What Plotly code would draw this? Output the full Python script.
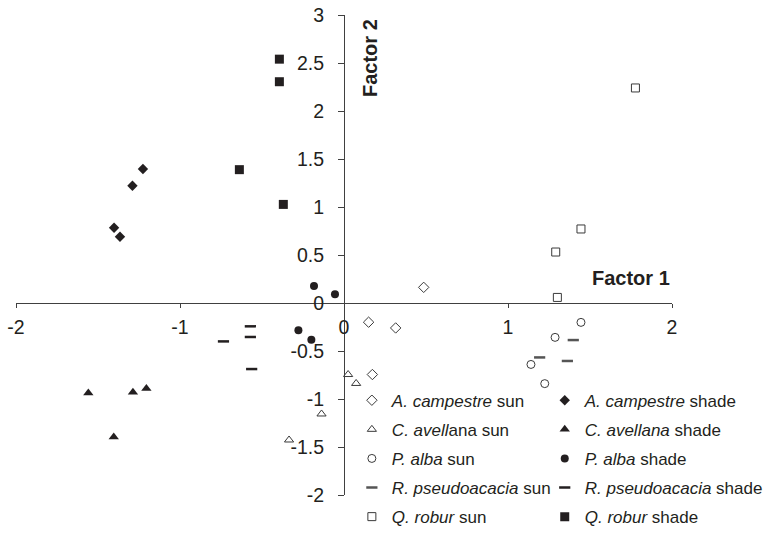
import plotly.graph_objects as go

# ---- data (Factor 1 = x, Factor 2 = y) ----
camp_sun_x = [0.486, 0.150, 0.315, 0.173]
camp_sun_y = [0.163, -0.200, -0.260, -0.745]
camp_shade_x = [-1.226, -1.290, -1.402, -1.366]
camp_shade_y = [1.396, 1.222, 0.784, 0.690]
avel_sun_x = [0.025, 0.074, -0.137, -0.335]
avel_sun_y = [-0.745, -0.838, -1.156, -1.427]
avel_shade_x = [-1.559, -1.287, -1.205, -1.404]
avel_shade_y = [-0.937, -0.930, -0.890, -1.396]
alba_sun_x = [1.445, 1.287, 1.140, 1.224]
alba_sun_y = [-0.202, -0.358, -0.640, -0.840]
alba_shade_x = [-0.183, -0.055, -0.278, -0.199]
alba_shade_y = [0.177, 0.090, -0.285, -0.382]
pseu_sun_x = [1.398, 1.193, 1.362]
pseu_sun_y = [-0.386, -0.567, -0.604]
pseu_shade_x = [-0.571, -0.571, -0.735, -0.563]
pseu_shade_y = [-0.243, -0.354, -0.400, -0.688]
robur_sun_x = [1.777, 1.445, 1.291, 1.301]
robur_sun_y = [2.240, 0.771, 0.531, 0.058]
robur_shade_x = [-0.394, -0.394, -0.638, -0.370]
robur_shade_y = [2.540, 2.305, 1.389, 1.027]

x_ticks = [-2, -1, 0, 1, 2]
y_ticks = [-2, -1.5, -1, -0.5, 0, 0.5, 1, 1.5, 2, 2.5, 3]

BLACK = "#231f20"
GRAY = "#3a3a3a"
FONT = "Liberation Sans, Arial, sans-serif"

fig = go.Figure()

def add(x, y, name, symbol, size, filled, legend, lw=1.0, color=None):
    col = color or (BLACK if filled else GRAY)
    if symbol == "line-ew":
        marker = dict(symbol=symbol, size=size, line=dict(color=col, width=lw))
    elif filled:
        marker = dict(symbol=symbol, size=size, color=col, line=dict(width=0))
    else:
        marker = dict(symbol=symbol + "-open", size=size, color=col, line=dict(color=col, width=lw))
    fig.add_trace(go.Scatter(x=x, y=y, mode="markers", name=name, marker=marker,
                             legend=legend, legendgroup=name, showlegend=True))

add(camp_sun_x, camp_sun_y, "<i>A. campestre</i> sun", "diamond", 8, False, "legend")
add(avel_sun_x, avel_sun_y, "<i>C. avell</i>ana sun", "triangle-up", 8, False, "legend")
add(alba_sun_x, alba_sun_y, "<i>P. alba</i> sun", "circle", 8, False, "legend")
add(pseu_sun_x, pseu_sun_y, "<i>R. pseudoacacia</i> sun", "line-ew", 8, False, "legend", lw=2.5, color="#555555")
add(robur_sun_x, robur_sun_y, "<i>Q. robur</i> sun", "square", 8, False, "legend")

add(camp_shade_x, camp_shade_y, "<i>A. campestre</i> shade", "diamond", 8, True, "legend2")
add(avel_shade_x, avel_shade_y, "<i>C. avellana</i> shade", "triangle-up", 9, True, "legend2")
add(alba_shade_x, alba_shade_y, "<i>P. alba</i> shade", "circle", 8, True, "legend2")
add(pseu_shade_x, pseu_shade_y, "<i>R. pseudoacacia</i> shade", "line-ew", 8, True, "legend2", lw=2.5, color=BLACK)
add(robur_shade_x, robur_shade_y, "<i>Q. robur</i> shade", "square", 9, True, "legend2")

legend_common = dict(
    orientation="v", traceorder="grouped", tracegroupgap=4,
    font=dict(family=FONT, size=17, color=BLACK),
    bgcolor="rgba(0,0,0,0)", itemwidth=30, xanchor="left", yanchor="top",
    itemclick=False, itemdoubleclick=False,
)

fig.update_layout(
    width=770, height=535,
    margin=dict(l=16, r=98, t=15, b=40, autoexpand=False),
    paper_bgcolor="white", plot_bgcolor="white",
    font=dict(family=FONT, size=19.5, color=BLACK),
    xaxis=dict(
        range=[-2, 2], domain=[0, 1], anchor="free", position=0.4, automargin=False,
        showgrid=False, zeroline=False, showline=True, linecolor="#404040", linewidth=1.2,
        ticks="outside", ticklen=4, tickcolor="#404040", tickwidth=1.2,
        tickvals=x_ticks, ticktext=[str(v) for v in x_ticks],
        tickfont=dict(family=FONT, size=19.5, color=BLACK), ticklabelstandoff=2,
        ticklabeloverflow="allow",
    ),
    yaxis=dict(
        range=[-2, 3], domain=[0, 1], anchor="free", position=0.5, side="left", automargin=False,
        showgrid=False, zeroline=False, showline=True, linecolor="#404040", linewidth=1.2,
        ticks="outside", ticklen=6, tickcolor="#404040", tickwidth=1.2,
        tickvals=y_ticks, ticktext=[("%g" % v) for v in y_ticks],
        tickfont=dict(family=FONT, size=19.5, color=BLACK), ticklabelstandoff=10,
        ticklabeloverflow="allow",
    ),
    legend=dict(x=0.512, y=0.234, **legend_common),
    legend2=dict(x=0.806, y=0.234, **legend_common),
    showlegend=True,
    annotations=[
        dict(text="<b>Factor 1</b>", x=2, y=0, xref="x", yref="y", xanchor="right",
             yanchor="bottom", yshift=12, showarrow=False,
             font=dict(family=FONT, size=20, color=BLACK)),
        dict(text="<b>Factor 2</b>", x=0, y=3, xref="x", yref="y", xanchor="left",
             yanchor="top", xshift=13, yshift=-2, textangle=-90, showarrow=False,
             font=dict(family=FONT, size=20, color=BLACK)),
    ],
)

fig.write_html("out.html", config={"displayModeBar": False},
               post_script="document.body.style.margin='0';")
